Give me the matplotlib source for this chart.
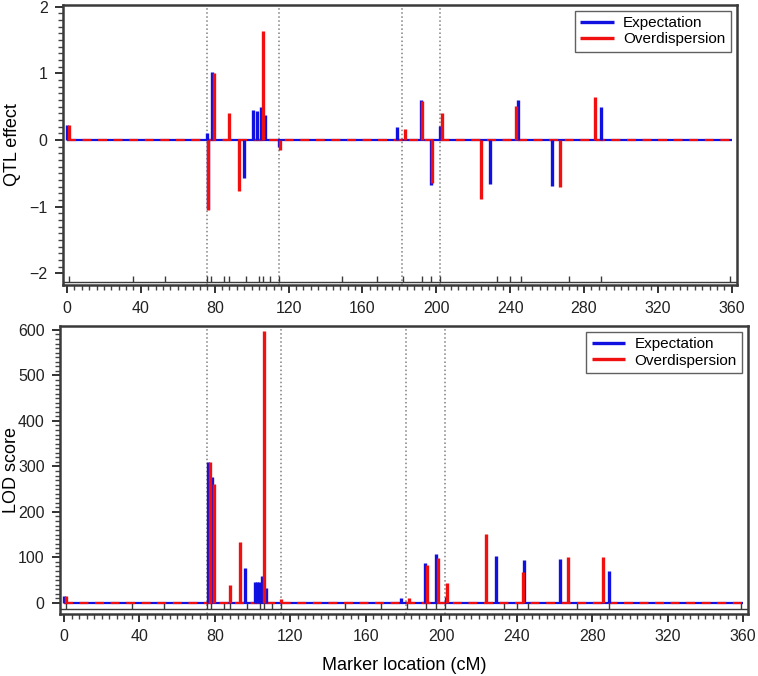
import matplotlib.pyplot as plt
import numpy as np

plt.rcParams['font.family'] = ['Liberation Sans', 'DejaVu Sans']

# QTL effect (top panel)
exp_qtl_pos = [0, 75.6, 76.2, 78.5, 96, 101, 103, 105, 107, 114.8, 178.5, 191.5, 197, 202, 229, 244, 262.5, 289]
exp_qtl_val = [0.22, 0.11, -1.04, 1.02, -0.57, 0.45, 0.43, 0.50, 0.37, -0.10, 0.19, 0.60, -0.67, 0.21, -0.66, 0.60, -0.69, 0.50]
ovd_qtl_pos = [1, 76.6, 79.5, 88, 93, 106, 115.6, 182.8, 192.4, 197.8, 203.2, 224, 243, 267, 286]
ovd_qtl_val = [0.22, -1.05, 1.00, 0.40, -0.77, 1.64, -0.15, 0.17, 0.58, -0.65, 0.40, -0.89, 0.51, -0.70, 0.64]

# LOD score (bottom panel)
exp_lod_pos = [0, 76.4, 78.5, 96, 101, 102.2, 103.4, 104.8, 107, 178.4, 191.3, 197.3, 202.5, 228.9, 244, 262.8, 289]
exp_lod_val = [16, 310, 276, 76, 47, 47, 47, 60, 33, 10, 88, 108, 13, 103, 94, 96, 70]
ovd_lod_pos = [1, 77.3, 79.6, 88, 93.2, 106, 115.2, 182.8, 192.2, 198.2, 203.3, 223.9, 243.2, 267, 285.9]
ovd_lod_val = [15, 310, 262, 40, 134, 598, 8, 10, 83, 98, 43, 151, 68, 101, 100]

# marker positions (cM) and chromosome boundaries
markers = [1, 36, 53, 76, 78, 85, 88, 97, 104, 106, 110, 115, 149, 168,
           182, 192, 197, 202, 233, 240, 246, 272, 289, 359]
bounds = [76, 115, 181.5, 202]

BLUE = '#1010e0'
RED = '#f01010'
FRAME = '#3a3a3a'

fig = plt.figure(figsize=(7.58, 6.76), dpi=100)
ax1 = fig.add_axes([0.083, 0.578, 0.889, 0.415])
ax2 = fig.add_axes([0.079, 0.092, 0.908, 0.426])


def panel(ax, epos, evals, opos, ovals, ylim, track, tick_h, yticks, yminor, ylabel):
    ax.set_xlim(-2.2, 362.7)
    ax.set_ylim(*ylim)
    for b in bounds:
        ax.axvline(b, color='#808080', linestyle=':', linewidth=1.1, zorder=1)
    ax.hlines(0, 0, 360, color=BLUE, linewidth=1.6, zorder=2)
    ax.hlines(0, 0, 360, color=RED, linewidth=1.6, linestyles=(0, (4, 3)), zorder=3)
    ax.vlines(epos, 0, evals, color=BLUE, linewidth=2.4, label='Expectation', zorder=4)
    ax.vlines(opos, 0, ovals, color=RED, linewidth=2.4, label='Overdispersion', zorder=5)
    # marker track
    ax.axhline(track, color=FRAME, linewidth=1.0, zorder=2)
    ax.vlines(markers, track, track + tick_h, color=FRAME, linewidth=1.0, zorder=2)
    ax.set_xticks(np.arange(0, 361, 40))
    ax.set_xticks(np.arange(0, 361, 4), minor=True)
    ax.set_yticks(yticks)
    ax.set_yticks(yminor, minor=True)
    ax.tick_params(which='major', direction='out', length=6, width=1.3, pad=5,
                   labelsize=11.5, colors='#222222')
    ax.tick_params(which='minor', direction='out', length=3.5, width=1.0, colors='#444444')
    for s in ax.spines.values():
        s.set_color(FRAME)
        s.set_linewidth(1.8)
    ax.set_ylabel(ylabel, fontsize=13)
    leg = ax.legend(loc='upper right', fontsize=11, fancybox=False, framealpha=1,
                    edgecolor='#606060', handlelength=2.2, borderpad=0.35,
                    labelspacing=0.15, handletextpad=0.6, borderaxespad=0.4)
    for h in leg.legend_handles:
        h.set_linewidth(2.4)


panel(ax1, exp_qtl_pos, exp_qtl_val, ovd_qtl_pos, ovd_qtl_val,
      (-2.18, 2.03), -2.135, 0.1, [-2, -1, 0, 1, 2], np.arange(-2, 2.01, 0.1), 'QTL effect')
panel(ax2, exp_lod_pos, exp_lod_val, ovd_lod_pos, ovd_lod_val,
      (-24, 609), -14, 13, np.arange(0, 601, 100), np.arange(0, 601, 10), 'LOD score')
ax2.set_xlabel('Marker location (cM)', fontsize=13, labelpad=9)
ax1.yaxis.set_label_coords(-0.062, 0.5)
ax2.yaxis.set_label_coords(-0.058, 0.5)

fig.savefig('out.png', dpi=100)
